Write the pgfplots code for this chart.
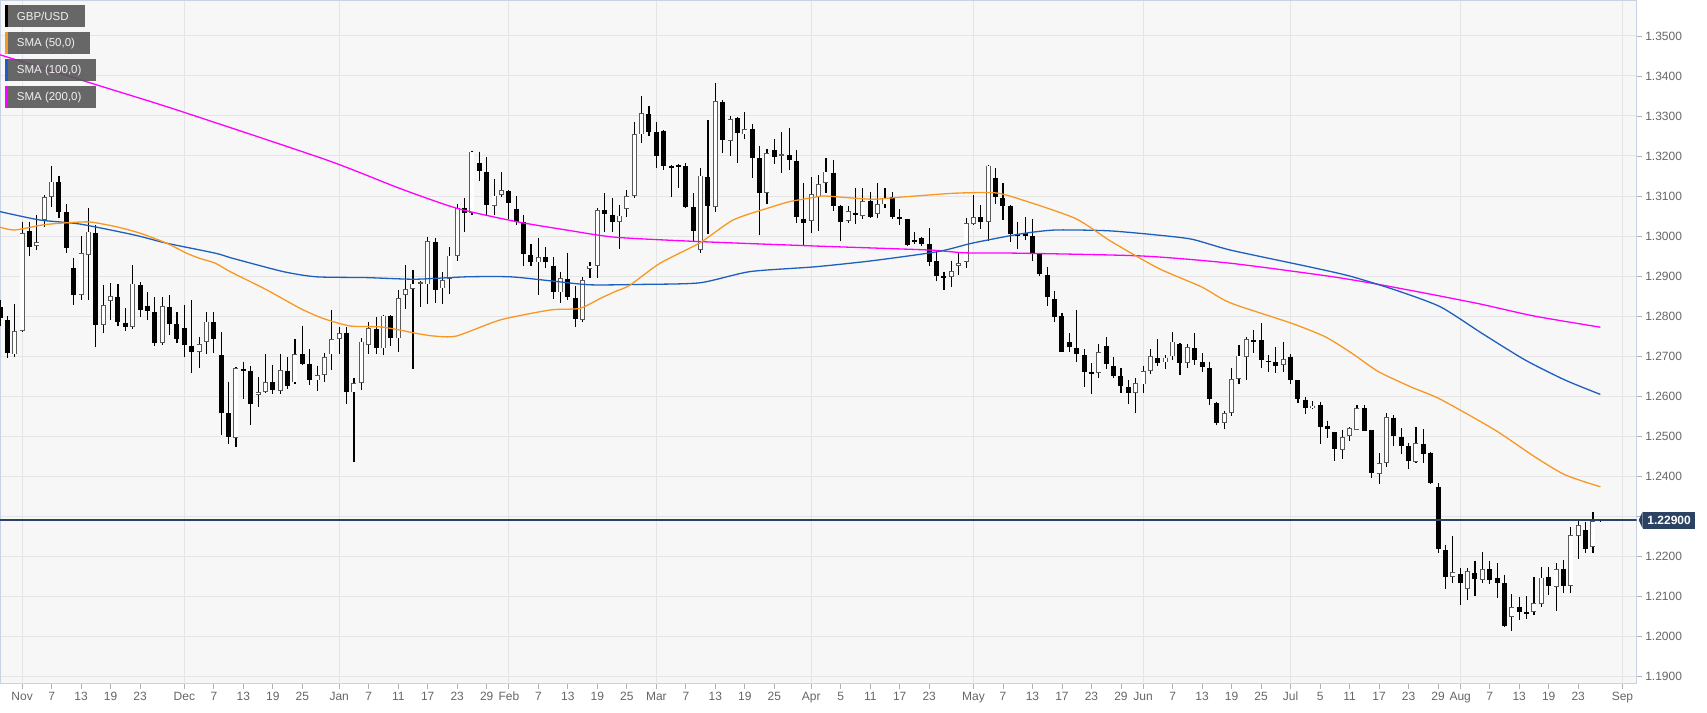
\documentclass[border=0pt]{standalone}
\usepackage{pgfplots}
\pgfplotsset{compat=1.18}
\usepackage{pgfplotstable}
\usepackage{fontspec}
\setmainfont{Liberation Sans}
\definecolor{plotbg}{RGB}{247,247,247}
\definecolor{gridc}{RGB}{229,229,229}
\definecolor{axc}{RGB}{200,210,226}
\definecolor{tickc}{RGB}{170,178,190}
\definecolor{labc}{RGB}{102,102,102}
\definecolor{smaA}{RGB}{247,152,35}
\definecolor{smaB}{RGB}{30,95,190}
\definecolor{smaC}{RGB}{255,0,255}
\definecolor{pricec}{RGB}{44,66,100}
\definecolor{legbg}{RGB}{88,88,88}
\definecolor{bullc}{RGB}{90,90,90}

\pgfplotstableread{
i o h l c
0 1.2823 1.2840 1.2775 1.2794
1 1.2790 1.2800 1.2694 1.2707
2 1.2704 1.2829 1.2697 1.2763
3 1.2763 1.3036 1.2759 1.3008
4 1.3013 1.3036 1.2950 1.2972
5 1.2975 1.3053 1.2965 1.2985
6 1.3040 1.3102 1.3022 1.3097
7 1.3097 1.3175 1.3073 1.3136
8 1.3134 1.3150 1.3044 1.3061
9 1.3059 1.3079 1.2957 1.2969
10 1.2920 1.2944 1.2828 1.2852
11 1.2852 1.3000 1.2840 1.2957
12 1.2953 1.3071 1.2840 1.3011
13 1.3008 1.3028 1.2722 1.2778
14 1.2777 1.2877 1.2757 1.2828
15 1.2838 1.2882 1.2790 1.2849
16 1.2848 1.2880 1.2775 1.2784
17 1.2783 1.2819 1.2762 1.2773
18 1.2772 1.2927 1.2767 1.2881
19 1.2878 1.2884 1.2797 1.2815
20 1.2826 1.2861 1.2790 1.2812
21 1.2810 1.2847 1.2725 1.2733
22 1.2732 1.2848 1.2727 1.2824
23 1.2823 1.2852 1.2753 1.2780
24 1.2779 1.2809 1.2733 1.2742
25 1.2771 1.2828 1.2697 1.2728
26 1.2726 1.2840 1.2657 1.2710
27 1.2710 1.2748 1.2669 1.2729
28 1.2735 1.2811 1.2705 1.2786
29 1.2785 1.2811 1.2707 1.2742
30 1.2702 1.2759 1.2503 1.2558
31 1.2557 1.2636 1.2480 1.2497
32 1.2495 1.2672 1.2473 1.2669
33 1.2668 1.2686 1.2592 1.2663
34 1.2662 1.2675 1.2527 1.2580
35 1.2602 1.2647 1.2572 1.2609
36 1.2610 1.2704 1.2607 1.2635
37 1.2634 1.2677 1.2604 1.2615
38 1.2613 1.2706 1.2604 1.2664
39 1.2663 1.2697 1.2617 1.2626
40 1.2634 1.2742 1.2630 1.2704
41 1.2704 1.2776 1.2678 1.2681
42 1.2680 1.2718 1.2628 1.2640
43 1.2639 1.2676 1.2613 1.2652
44 1.2652 1.2708 1.2634 1.2698
45 1.2704 1.2815 1.2664 1.2743
46 1.2743 1.2772 1.2705 1.2758
47 1.2757 1.2772 1.2579 1.2610
48 1.2609 1.2644 1.2436 1.2633
49 1.2633 1.2744 1.2615 1.2736
50 1.2728 1.2786 1.2704 1.2769
51 1.2767 1.2798 1.2704 1.2719
52 1.2719 1.2803 1.2703 1.2801
53 1.2800 1.2802 1.2726 1.2746
54 1.2744 1.2865 1.2709 1.2844
55 1.2853 1.2928 1.2818 1.2867
56 1.2867 1.2914 1.2667 1.2881
57 1.2881 1.2887 1.2823 1.2884
58 1.2879 1.2998 1.2829 1.2987
59 1.2985 1.2994 1.2832 1.2865
60 1.2869 1.2909 1.2829 1.2890
61 1.2892 1.2973 1.2854 1.2951
62 1.2951 1.3079 1.2938 1.3071
63 1.3069 1.3094 1.3009 1.3058
64 1.3058 1.3212 1.3053 1.3211
65 1.3182 1.3211 1.3138 1.3163
66 1.3161 1.3198 1.3053 1.3078
67 1.3076 1.3143 1.3053 1.3101
68 1.3103 1.3159 1.3097 1.3114
69 1.3113 1.3115 1.3042 1.3082
70 1.3068 1.3100 1.3028 1.3036
71 1.3036 1.3053 1.2926 1.2954
72 1.2953 1.2979 1.2926 1.2936
73 1.2934 1.2994 1.2853 1.2948
74 1.2947 1.2973 1.2919 1.2934
75 1.2926 1.2948 1.2843 1.2861
76 1.2859 1.2909 1.2832 1.2894
77 1.2893 1.2957 1.2840 1.2847
78 1.2846 1.2876 1.2772 1.2792
79 1.2790 1.2898 1.2786 1.2890
80 1.2917 1.2936 1.2894 1.2926
81 1.2926 1.3071 1.2894 1.3065
82 1.3065 1.3107 1.3009 1.3054
83 1.3053 1.3094 1.3011 1.3036
84 1.3036 1.3078 1.2967 1.3051
85 1.3068 1.3115 1.3048 1.3100
86 1.3100 1.3286 1.3094 1.3254
87 1.3254 1.3350 1.3232 1.3307
88 1.3305 1.3325 1.3251 1.3261
89 1.3261 1.3284 1.3169 1.3201
90 1.3263 1.3264 1.3165 1.3175
91 1.3175 1.3177 1.3097 1.3173
92 1.3178 1.3180 1.3121 1.3173
93 1.3175 1.3183 1.3070 1.3072
94 1.3072 1.3107 1.2988 1.3012
95 1.2965 1.3169 1.2958 1.3151
96 1.3148 1.3290 1.3004 1.3075
97 1.3073 1.3383 1.3059 1.3338
98 1.3336 1.3340 1.3207 1.3240
99 1.3238 1.3301 1.3201 1.3293
100 1.3294 1.3298 1.3182 1.3257
101 1.3254 1.3309 1.3243 1.3267
102 1.3267 1.3280 1.3144 1.3196
103 1.3194 1.3225 1.3003 1.3107
104 1.3107 1.3217 1.3079 1.3208
105 1.3215 1.3243 1.3180 1.3198
106 1.3201 1.3261 1.3157 1.3205
107 1.3203 1.3269 1.3165 1.3190
108 1.3188 1.3215 1.3032 1.3047
109 1.3042 1.3133 1.2978 1.3033
110 1.3038 1.3148 1.3007 1.3104
111 1.3098 1.3153 1.3013 1.3129
112 1.3132 1.3194 1.3107 1.3161
113 1.3158 1.3190 1.3063 1.3076
114 1.3076 1.3078 1.2988 1.3036
115 1.3038 1.3075 1.3032 1.3062
116 1.3058 1.3121 1.3030 1.3053
117 1.3050 1.3121 1.3043 1.3088
118 1.3088 1.3111 1.3046 1.3048
119 1.3055 1.3133 1.3044 1.3079
120 1.3079 1.3119 1.3069 1.3096
121 1.3097 1.3111 1.3042 1.3048
122 1.3047 1.3067 1.3028 1.3045
123 1.3042 1.3043 1.2975 1.2978
124 1.2989 1.3011 1.2980 1.2986
125 1.2994 1.2997 1.2975 1.2980
126 1.2979 1.3019 1.2925 1.2936
127 1.2938 1.2963 1.2888 1.2901
128 1.2900 1.2911 1.2865 1.2898
129 1.2898 1.2938 1.2873 1.2913
130 1.2925 1.2958 1.2902 1.2932
131 1.2936 1.3046 1.2921 1.3032
132 1.3030 1.3103 1.3028 1.3048
133 1.3047 1.3077 1.3017 1.3035
134 1.3036 1.3178 1.2988 1.3176
135 1.3145 1.3169 1.3079 1.3097
136 1.3094 1.3132 1.3040 1.3075
137 1.3075 1.3078 1.2986 1.3006
138 1.3006 1.3034 1.2967 1.3000
139 1.3007 1.3047 1.2990 1.3000
140 1.3000 1.3042 1.2938 1.2958
141 1.2957 1.2958 1.2901 1.2905
142 1.2903 1.2922 1.2825 1.2847
143 1.2842 1.2863 1.2786 1.2798
144 1.2800 1.2807 1.2709 1.2711
145 1.2734 1.2757 1.2711 1.2723
146 1.2719 1.2815 1.2684 1.2705
147 1.2703 1.2718 1.2622 1.2659
148 1.2659 1.2682 1.2605 1.2656
149 1.2657 1.2730 1.2644 1.2709
150 1.2726 1.2748 1.2667 1.2679
151 1.2675 1.2698 1.2646 1.2651
152 1.2651 1.2669 1.2608 1.2626
153 1.2623 1.2640 1.2580 1.2607
154 1.2608 1.2644 1.2558 1.2633
155 1.2629 1.2676 1.2608 1.2663
156 1.2663 1.2718 1.2654 1.2699
157 1.2694 1.2742 1.2676 1.2683
158 1.2684 1.2703 1.2667 1.2696
159 1.2699 1.2761 1.2690 1.2736
160 1.2729 1.2732 1.2653 1.2683
161 1.2683 1.2730 1.2669 1.2723
162 1.2719 1.2757 1.2678 1.2690
163 1.2684 1.2707 1.2659 1.2673
164 1.2669 1.2686 1.2578 1.2593
165 1.2582 1.2586 1.2528 1.2533
166 1.2532 1.2563 1.2517 1.2557
167 1.2557 1.2669 1.2550 1.2642
168 1.2642 1.2728 1.2630 1.2701
169 1.2698 1.2748 1.2640 1.2742
170 1.2740 1.2765 1.2707 1.2738
171 1.2740 1.2782 1.2669 1.2690
172 1.2688 1.2703 1.2661 1.2686
173 1.2685 1.2723 1.2658 1.2675
174 1.2677 1.2734 1.2661 1.2693
175 1.2698 1.2704 1.2629 1.2640
176 1.2640 1.2641 1.2582 1.2593
177 1.2591 1.2597 1.2554 1.2569
178 1.2569 1.2588 1.2567 1.2576
179 1.2577 1.2586 1.2479 1.2523
180 1.2526 1.2538 1.2494 1.2517
181 1.2509 1.2511 1.2438 1.2468
182 1.2465 1.2515 1.2443 1.2498
183 1.2500 1.2522 1.2488 1.2520
184 1.2515 1.2578 1.2515 1.2570
185 1.2569 1.2578 1.2513 1.2513
186 1.2515 1.2515 1.2396 1.2407
187 1.2405 1.2457 1.2380 1.2432
188 1.2432 1.2557 1.2423 1.2547
189 1.2546 1.2553 1.2475 1.2501
190 1.2498 1.2519 1.2455 1.2475
191 1.2475 1.2482 1.2417 1.2438
192 1.2436 1.2523 1.2433 1.2482
193 1.2480 1.2518 1.2433 1.2455
194 1.2458 1.2459 1.2379 1.2382
195 1.2373 1.2382 1.2208 1.2217
196 1.2215 1.2228 1.2117 1.2148
197 1.2147 1.2251 1.2133 1.2159
198 1.2155 1.2169 1.2078 1.2132
199 1.2118 1.2169 1.2090 1.2163
200 1.2157 1.2188 1.2100 1.2143
201 1.2140 1.2209 1.2132 1.2167
202 1.2167 1.2188 1.2129 1.2140
203 1.2144 1.2182 1.2094 1.2132
204 1.2132 1.2153 1.2023 1.2026
205 1.2047 1.2104 1.2013 1.2072
206 1.2072 1.2097 1.2040 1.2059
207 1.2059 1.2100 1.2043 1.2055
208 1.2061 1.2148 1.2053 1.2083
209 1.2080 1.2173 1.2073 1.2146
210 1.2148 1.2172 1.2103 1.2126
211 1.2123 1.2182 1.2063 1.2168
212 1.2168 1.2190 1.2107 1.2126
213 1.2126 1.2273 1.2107 1.2253
214 1.2250 1.2292 1.2192 1.2278
215 1.2265 1.2286 1.2207 1.2218
216 1.2222 1.2309 1.2207 1.2288
217 1.2291 1.2293 1.2285 1.2289
}\candles

\begin{document}
\begin{tikzpicture}
\begin{axis}[
  scale only axis, width=1636.7pt, height=682.7pt,
  xmin=0, xmax=221.93, ymin=1.18808, ymax=1.35875,
  clip mode=individual,
  axis background/.style={fill=plotbg},
  axis line style={draw=axc, line width=1pt},
  tick align=outside, major tick length=5pt,
  tick style={draw=tickc, line width=0.8pt},
  xtick pos=bottom, ytick pos=right, yticklabel pos=right,
  ymajorgrids=true, xmajorgrids=false,
  grid style={draw=gridc, line width=1pt},
  /pgf/number format/assume math mode=true,
  tick label style={font=\fontsize{12}{14}\selectfont, text=labc},
  y tick label style={/pgf/number format/.cd, fixed, fixed zerofill, precision=4, /tikz/.cd},
  ytick={1.19,1.20,1.21,1.22,1.23,1.24,1.25,1.26,1.27,1.28,1.29,1.30,1.31,1.32,1.33,1.34,1.35},
  yticklabels={1.1900,1.2000,1.2100,1.2200,,1.2400,1.2500,1.2600,1.2700,1.2800,1.2900,1.3000,1.3100,1.3200,1.3300,1.3400,1.3500},
  xtick={7,11,15,19,29,33,37,41,50,54,58,62,66,73,77,81,85,93,97,101,105,114,118,122,126,136,140,144,148,152,159,163,167,171,179,183,187,191,195,202,206,210,214},
  xticklabels={7,13,19,23,7,13,19,25,7,11,17,23,29,7,13,19,25,7,13,19,25,5,11,17,23,7,13,17,23,29,7,13,19,25,5,11,17,23,29,7,13,19,23},
  extra x ticks={3,25,46,69,89,110,132,155,175,198,220},
  extra x tick labels={Nov,Dec,Jan,Feb,Mar,Apr,May,Jun,Jul,Aug,Sep},
  extra x tick style={xmajorgrids=true},
]
% wicks
\addplot[draw=none, mark=none, forget plot,
  error bars/.cd, y dir=minus, y explicit, error mark=none,
  error bar style={draw=black, solid, line width=1.2pt}]
  table[x=i, y=h, y error minus expr={\thisrow{h}-\thisrow{l}}] {\candles};
% bearish bodies
\addplot[draw=none, mark=none, forget plot,
  error bars/.cd, y dir=minus, y explicit, error mark=none,
  error bar style={draw=black, solid, line width=5pt}]
  table[x=i, y=o, y error minus expr={ifthenelse(\thisrow{o}>\thisrow{c}, max(\thisrow{o}-\thisrow{c},0.0004), 0)}] {\candles};
% bullish bodies: outline
\addplot[draw=none, mark=none, forget plot,
  error bars/.cd, y dir=minus, y explicit, error mark=none,
  error bar style={draw=bullc, solid, line width=5pt}]
  table[x=i, y=c, y error minus expr={ifthenelse(\thisrow{c}>\thisrow{o}, max(\thisrow{c}-\thisrow{o},0.0004), 0)}] {\candles};
% bullish bodies: white fill
\addplot[draw=none, mark=none, forget plot,
  error bars/.cd, y dir=minus, y explicit, error mark=none,
  error bar style={draw=white, solid, line width=3.4pt}]
  table[x=i, y expr={\thisrow{c}-0.0002}, y error minus expr={ifthenelse(\thisrow{c}>\thisrow{o}, max(\thisrow{c}-\thisrow{o}-0.0004,0), 0)}] {\candles};

% SMA 200
\addplot[smaC, line width=1.3pt, mark=none, smooth, tension=0.4] coordinates {
(0,1.3453) (13.6,1.3375) (24,1.3315) (44.3,1.3190) (54.2,1.3119) (62,1.3069) (70,1.3036) (76.8,1.3015) (83.4,1.2997) (94.9,1.2986) (110.5,1.2975) (125.9,1.2965) (130.8,1.2958) (138.3,1.2957) (154.9,1.2950) (166.8,1.2932) (180,1.2900) (186,1.2882) (193,1.2858) (200.7,1.2830) (208,1.2800) (217,1.2772)};
% SMA 100
\addplot[smaB, line width=1.3pt, mark=none, smooth, tension=0.4] coordinates {
(0,1.3061) (5.4,1.3040) (10.8,1.3030) (18.1,1.3003) (22.6,1.2982) (29.2,1.2957) (31.6,1.2944) (38.4,1.2911) (42.9,1.2898) (49.7,1.2896) (56.3,1.2892) (63.3,1.2898) (69.2,1.2898) (74.6,1.2888) (80,1.2878) (87,1.2879) (94.9,1.2883) (101.7,1.2911) (110.5,1.2923) (118.2,1.2938) (127.2,1.2961) (131.8,1.2982) (138.3,1.3005) (143.1,1.3015) (150.3,1.3013) (156.6,1.3003) (161.6,1.2992) (166.8,1.2965) (177,1.2925) (183,1.2900) (189.2,1.2865) (195.3,1.2823) (201,1.2756) (206.8,1.2690) (212.2,1.2640) (217,1.2604)};
% SMA 50
\addplot[smaA, line width=1.3pt, mark=none, smooth, tension=0.4] coordinates {
(0,1.3022) (2,1.3015) (5.9,1.3028) (9,1.3033) (12.2,1.3035) (15.8,1.3023) (19,1.3007) (22.6,1.2982) (25.3,1.2957) (27.1,1.2944) (29.2,1.2932) (31.2,1.2911) (36.2,1.2865) (40.7,1.2819) (43.8,1.2794) (47.5,1.2775) (51.5,1.2773) (54.2,1.2765) (56.3,1.2757) (58.8,1.2750) (61.9,1.2750) (67.8,1.2790) (74.6,1.2815) (78.6,1.2819) (81.4,1.2844) (83.4,1.2861) (85.4,1.2877) (89.5,1.2932) (94.9,1.2983) (99.4,1.3040) (104,1.3069) (107.1,1.3086) (110.5,1.3097) (111.9,1.3100) (118.2,1.3092) (122.7,1.3098) (129.5,1.3107) (134.9,1.3108) (138.3,1.3092) (145.8,1.3044) (150.7,1.2986) (157.1,1.2919) (162.9,1.2873) (166.8,1.2833) (175.1,1.2782) (179.7,1.2748) (183.3,1.2707) (186.9,1.2661) (191.4,1.2622) (195.3,1.2592) (202.7,1.2515) (208.1,1.2448) (212.2,1.2403) (217,1.2373)};
% current price line
\addplot[pricec, line width=1.3pt, mark=none] coordinates {(0,1.229) (221.93,1.229)};

\coordinate (bl) at (rel axis cs:0,0);

% price label
\node[anchor=west, fill=pricec, text=white, font=\bfseries\fontsize{12}{14}\selectfont,
  inner xsep=4.5pt, inner ysep=0pt, minimum height=17pt] (pl) at ([xshift=6pt]axis cs:221.93,1.229) {1.22900};
\fill[pricec] (pl.north west) -- ([xshift=-4pt]pl.west) -- (pl.south west) -- cycle;

% legend boxes
\tikzset{legbox/.style={anchor=north west, fill=legbg, fill opacity=0.9, minimum height=21.7pt, inner sep=0pt},
  legtxt/.style={anchor=west, text=white!94!black, font=\fontsize{11.5}{13}\selectfont, inner sep=0pt}}
\node[legbox, minimum width=80pt] (L1) at ([xshift=5pt,yshift=-4pt]rel axis cs:0,1) {};
\fill[black] (L1.north west) rectangle ([xshift=3pt]L1.south west);
\node[legtxt] at ([xshift=11.7pt]L1.west) {GBP/USD};
\node[legbox, minimum width=85pt] (L2) at ([xshift=5pt,yshift=-31pt]rel axis cs:0,1) {};
\fill[smaA] (L2.north west) rectangle ([xshift=3pt]L2.south west);
\node[legtxt] at ([xshift=11.7pt]L2.west) {SMA (50,0)};
\node[legbox, minimum width=91pt] (L3) at ([xshift=5pt,yshift=-58.3pt]rel axis cs:0,1) {};
\fill[smaB] (L3.north west) rectangle ([xshift=3pt]L3.south west);
\node[legtxt] at ([xshift=11.7pt]L3.west) {SMA (100,0)};
\node[legbox, minimum width=91pt] (L4) at ([xshift=5pt,yshift=-85pt]rel axis cs:0,1) {};
\fill[smaC] (L4.north west) rectangle ([xshift=3pt]L4.south west);
\node[legtxt] at ([xshift=11.7pt]L4.west) {SMA (200,0)};
\end{axis}
\pgfresetboundingbox
\path ([yshift=-28.3pt]bl) rectangle ++(1707pt,712pt);
\end{tikzpicture}
\end{document}
